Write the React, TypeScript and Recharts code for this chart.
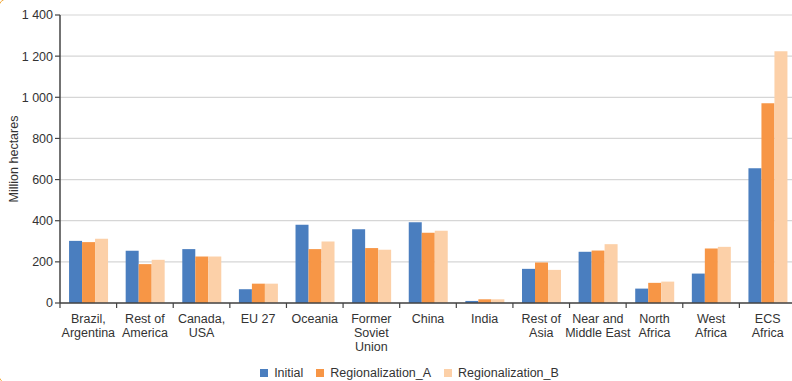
import { BarChart, Bar, XAxis, YAxis, CartesianGrid, Legend } from "recharts";

const regions = [
  "Brazil,\nArgentina",
  "Rest of\nAmerica",
  "Canada,\nUSA",
  "EU 27",
  "Oceania",
  "Former\nSoviet\nUnion",
  "China",
  "India",
  "Rest of\nAsia",
  "Near and\nMiddle East",
  "North\nAfrica",
  "West\nAfrica",
  "ECS\nAfrica",
];

const initial = [302, 254, 262, 67, 380, 359, 392, 10, 166, 249, 70, 143, 655];
const regionalizationA = [296, 189, 226, 94, 262, 267, 341, 18, 197, 255, 98, 265, 971];
const regionalizationB = [312, 210, 226, 94, 299, 259, 351, 18, 161, 286, 104, 273, 1224];

const yTicks = [0, 200, 400, 600, 800, 1000, 1200, 1400];

const data = regions.map((region, i) => ({
  region,
  Initial: initial[i],
  Regionalization_A: regionalizationA[i],
  Regionalization_B: regionalizationB[i],
}));

const FONT = "'Liberation Sans', Arial, sans-serif";

// category labels, plus the small tick marks at the band edges
function RegionTick(props: any) {
  const { x, y, payload, index } = props;
  const half = payload.offset || 0;
  const axisY = y - 8;
  const lines = String(payload.value).split("\n");
  return (
    <g>
      <line x1={x - half} x2={x - half} y1={axisY} y2={axisY + 5} stroke="#444" strokeWidth={1.2} />
      {index === regions.length - 1 && (
        <line x1={x + half} x2={x + half} y1={axisY} y2={axisY + 5} stroke="#444" strokeWidth={1.2} />
      )}
      <text x={x} y={y + 12} textAnchor="middle" fill="#333" fontSize={12.5} fontFamily={FONT}>
        {lines.map((line, i) => (
          <tspan key={i} x={x} dy={i === 0 ? 0 : 14}>
            {line}
          </tspan>
        ))}
      </text>
    </g>
  );
}

const formatThousands = (v: number) => String(v).replace(/\B(?=(\d{3})+(?!\d))/g, " ");

export default function App() {
  return (
    <div
      style={{
        position: "fixed",
        left: 0,
        top: 0,
        width: 792,
        height: 381,
        overflow: "hidden",
        background: "#fff",
        fontFamily: FONT,
      }}
    >
      <div
        style={{
          position: "absolute",
          left: -2,
          top: -2,
          width: 1000,
          height: 386,
          border: "1.5px solid #f2a93b",
          borderRadius: 10,
          boxSizing: "border-box",
        }}
      />
      <BarChart
        width={800}
        height={381}
        data={data}
        margin={{ top: 15, right: 4, left: 0, bottom: 0 }}
        barCategoryGap="16%"
        barGap={0}
        style={{ position: "absolute", left: 0, top: 0 }}
      >
        <CartesianGrid vertical={false} stroke="#d6d6d6" strokeWidth={1.2} />
        <XAxis
          dataKey="region"
          interval={0}
          height={60}
          tick={<RegionTick />}
          tickLine={false}
          axisLine={{ stroke: "#444", strokeWidth: 1.5 }}
        />
        <YAxis
          width={60}
          domain={[0, 1400]}
          ticks={yTicks}
          tickFormatter={formatThousands}
          tick={{ fill: "#333", fontSize: 12.5, fontFamily: FONT }}
          axisLine={{ stroke: "#444", strokeWidth: 1.5 }}
          tickLine={{ stroke: "#444", strokeWidth: 1.2 }}
          tickSize={5}
          label={{
            value: "Million hectares",
            angle: -90,
            position: "insideLeft",
            offset: 14,
            style: { textAnchor: "middle", fill: "#333", fontSize: 12.5, fontFamily: FONT },
          }}
        />
        <Legend
          verticalAlign="bottom"
          iconType="square"
          iconSize={8}
          wrapperStyle={{ paddingLeft: 18, bottom: 0 }}
          formatter={(value) => (
            <span style={{ color: "#333", fontSize: 12.5, fontFamily: FONT, paddingLeft: 2, marginRight: 3 }}>
              {value}
            </span>
          )}
        />
        <Bar dataKey="Initial" fill="#4a7ebf" isAnimationActive={false} />
        <Bar dataKey="Regionalization_A" fill="#f79646" isAnimationActive={false} />
        <Bar dataKey="Regionalization_B" fill="#fcd0a8" isAnimationActive={false} />
      </BarChart>
    </div>
  );
}
